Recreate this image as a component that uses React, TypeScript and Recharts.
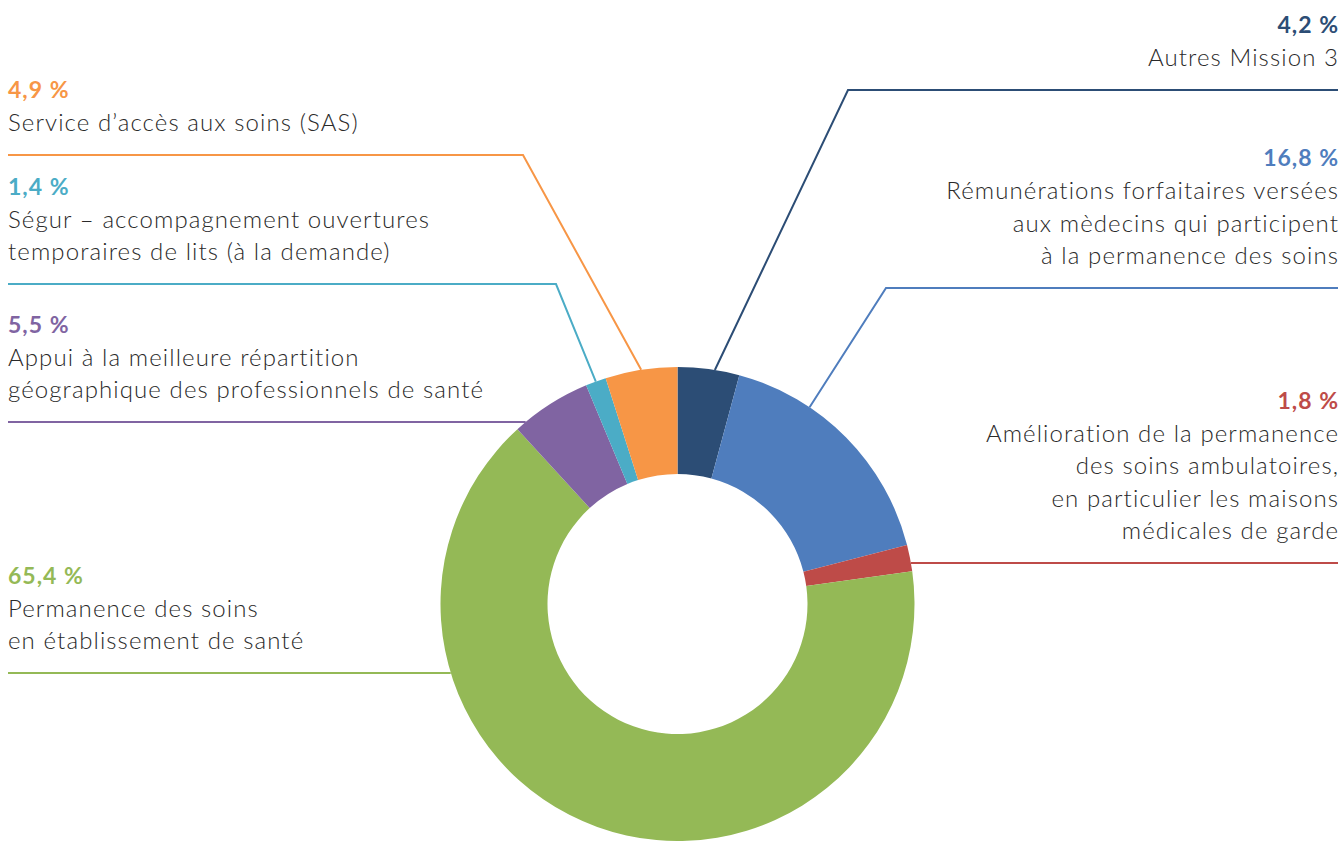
import React from "react";
import { PieChart, Pie, Cell } from "recharts";

// ---- data ----
const categories: string[] = [
  "Autres Mission 3",
  "Rémunérations forfaitaires versées aux mèdecins qui participent à la permanence des soins",
  "Amélioration de la permanence des soins ambulatoires, en particulier les maisons médicales de garde",
  "Permanence des soins en établissement de santé",
  "Appui à la meilleure répartition géographique des professionnels de santé",
  "Ségur – accompagnement ouvertures temporaires de lits (à la demande)",
  "Service d’accès aux soins (SAS)",
];
const shares: number[] = [4.2, 16.8, 1.8, 65.4, 5.5, 1.4, 4.9];
const labelLines: string[][] = [
  ["Autres Mission 3"],
  ["Rémunérations forfaitaires versées", "aux mèdecins qui participent", "à la permanence des soins"],
  ["Amélioration de la permanence", "des soins ambulatoires,", "en particulier les maisons", "médicales de garde"],
  ["Permanence des soins", "en établissement de santé"],
  ["Appui à la meilleure répartition", "géographique des professionnels de santé"],
  ["Ségur – accompagnement ouvertures", "temporaires de lits (à la demande)"],
  ["Service d’accès aux soins (SAS)"],
];
const colors: string[] = ["#2c4d75", "#4f7dbd", "#be4b48", "#94b956", "#8064a2", "#4bacc6", "#f79646"];

// ---- layout (annotation placement, not data) ----
type Leader = { side: "left" | "right"; lineY: number; elbowX?: number; anchor?: number };
const leaders: Leader[] = [
  { side: "right", lineY: 90, elbowX: 848, anchor: 0.6 },
  { side: "right", lineY: 288, elbowX: 886, anchor: 0.31 },
  { side: "right", lineY: 563 },
  { side: "left", lineY: 673 },
  { side: "left", lineY: 422 },
  { side: "left", lineY: 284, elbowX: 556, anchor: 0.5 },
  { side: "left", lineY: 155, elbowX: 523, anchor: 0.5 },
];

const W = 1342;
const H = 841;
const LEFT_X = 8;
const RIGHT_X = 1338;
const LINE_H = 32.5;
const FONT = "Lato, 'Open Sans', sans-serif";

const data = categories.map((name, i) => ({ name, value: shares[i] }));

const fmt = (v: number) => v.toFixed(1).replace(".", ",") + " %";

const renderLabel = (props: any) => {
  const { cx, cy, outerRadius, startAngle, endAngle, index } = props;
  const L = leaders[index];
  const color = colors[index];
  const RAD = Math.PI / 180;
  let pts: [number, number][] = [];
  if (L.elbowX !== undefined) {
    const a = startAngle + (L.anchor ?? 0.5) * (endAngle - startAngle);
    const px = cx + outerRadius * Math.cos(-a * RAD);
    const py = cy + outerRadius * Math.sin(-a * RAD);
    const endX = L.side === "left" ? LEFT_X : RIGHT_X;
    pts = [[px, py], [L.elbowX, L.lineY], [endX, L.lineY]];
  } else {
    const dy = L.lineY - cy;
    const dx = Math.sqrt(Math.max(0, outerRadius * outerRadius - dy * dy));
    const px = L.side === "left" ? cx - dx : cx + dx;
    const endX = L.side === "left" ? LEFT_X : RIGHT_X;
    pts = [[px, L.lineY], [endX, L.lineY]];
  }
  const lines = labelLines[index];
  const lastBase = L.lineY - 24;
  const firstBase = lastBase - (lines.length - 1) * LINE_H;
  const pctBase = firstBase - 33;
  const right = L.side === "right";
  const tx = right ? RIGHT_X : LEFT_X;
  const anchor = right ? "end" : "start";
  return (
    <g key={`lbl-${index}`}>
      <polyline
        points={pts.map((p) => p.join(",")).join(" ")}
        fill="none"
        stroke={color}
        strokeWidth={2}
      />
      <text
        x={right ? tx + 1 : tx}
        y={pctBase}
        textAnchor={anchor}
        fill={color}
        fontFamily={FONT}
        fontWeight={700}
        fontSize={23}
        letterSpacing={1}
      >
        {fmt(shares[index])}
      </text>
      {lines.map((ln, j) => (
        <text
          key={j}
          x={right ? tx + 1.1 : tx}
          y={firstBase + j * LINE_H}
          textAnchor={anchor}
          fill="#2a2a2a"
          fontFamily={FONT}
          fontWeight={300}
          fontSize={24}
          letterSpacing={1.1}
        >
          {ln}
        </text>
      ))}
    </g>
  );
};

export default function App() {
  return (
    <div style={{ position: "absolute", left: 0, top: 0, width: W, height: H, background: "#fff" }}>
      <PieChart width={W} height={H} margin={{ top: 0, right: 0, bottom: 0, left: 0 }}>
        <Pie
          data={data}
          dataKey="value"
          nameKey="name"
          cx={677.5}
          cy={604}
          innerRadius={130}
          outerRadius={237}
          startAngle={90}
          endAngle={-270}
          stroke="none"
          isAnimationActive={false}
          label={renderLabel}
          labelLine={false}
        >
          {data.map((d, i) => (
            <Cell key={d.name} fill={colors[i]} />
          ))}
        </Pie>
      </PieChart>
    </div>
  );
}
